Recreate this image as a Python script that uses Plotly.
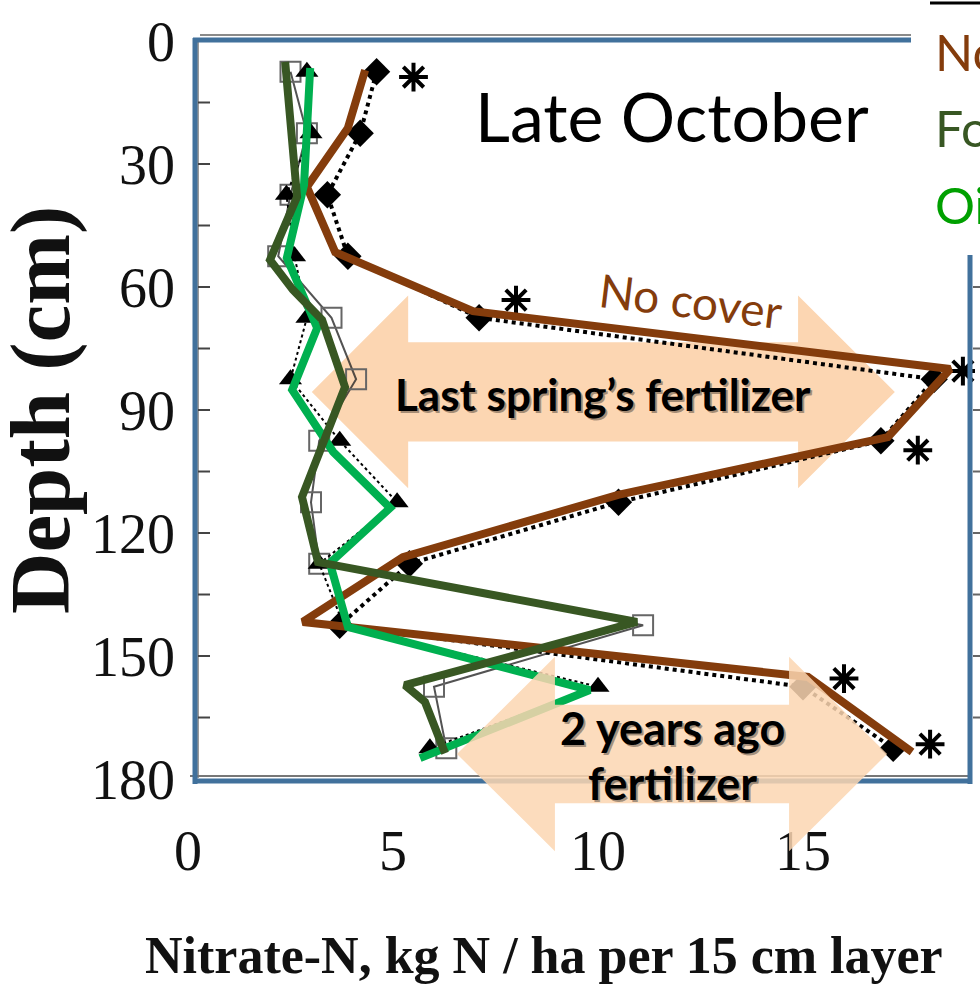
import plotly.graph_objects as go

# ---------------- data ----------------
# Hand-drawn overlay lines: nitrate-N (kg N/ha per 15 cm) vs depth (cm)
nocover_x = [4.32, 3.90, 2.90, 3.59, 6.95, 18.59, 17.07, 10.49, 5.24, 2.80, 15.12, 17.66]
nocover_d = [7.1, 21.2, 35.6, 51.5, 65.9, 80.0, 96.6, 110.7, 125.9, 141.7, 155.1, 173.4]

forage_x = [2.37, 2.66, 2.00, 2.56, 3.27, 3.83, 2.78, 3.17, 10.95, 5.29, 5.78, 6.27]
forage_d = [5.1, 38.0, 53.4, 60.7, 68.0, 84.4, 111.2, 127.1, 141.7, 157.1, 161.2, 173.7]

oilseed_x = [2.98, 2.83, 2.41, 3.15, 2.54, 3.54, 4.93, 3.46, 3.90, 9.80, 5.66]
oilseed_d = [6.6, 35.1, 52.9, 70.0, 85.1, 100.2, 113.9, 127.3, 142.9, 158.3, 174.9]

# Scanned original markers (layer mid-depths)
layer_depth = [7.5, 22.5, 37.5, 52.5, 67.5, 82.5, 97.5, 112.5, 127.5, 142.5, 157.5, 172.5]
scan_nocover = [4.6, 4.2, 3.4, 3.9, 7.1, 18.2, 16.9, 10.5, 5.4, 3.7, 15.0, 17.2]
scan_oilseed = [2.9, 3.0, 2.4, 2.6, 2.9, 2.5, 3.7, 5.1, 3.2, 3.8, 10.0, 5.9]
scan_forage = [2.5, 2.9, 2.5, 2.2, 3.5, 4.1, 3.2, 3.0, 3.2, 11.1, 6.0, 6.3]
signif = [1, 0, 0, 0, 1, 1, 1, 0, 0, 0, 1, 1]
signif_x = [5.5, 0, 0, 0, 8.0, 18.9, 17.8, 0, 0, 0, 16.0, 18.1]
signif_d = [8.8, 0, 0, 0, 63.2, 80.5, 99.8, 0, 0, 0, 155.5, 171.5]

x_ticks = [0, 5, 10, 15]
y_ticks = [0, 30, 60, 90, 120, 150, 180]
legend_names = ["No cover", "Forage radish", "Oilseed radish"]

BROWN = "#843C0C"
DKGREEN = "#385723"
GREEN = "#00B050"
LEGGREEN = "#00A000"
BLUE = "#41719C"
PEACH = "rgb(252,214,178)"

# ---------------- layout geometry ----------------
W, H = 980, 1002
ML, MR, MT, MB = 178, 5, 38, 217
PW, PH = W - ML - MR, H - MT - MB
X_RANGE = [-0.2439, 19.195]
Y_RANGE = [181.46, -0.7317]


def pp(px, py):
    return (px - ML) / PW, (H - MB - py) / PH


def dp(x, d):
    return ((x - X_RANGE[0]) / (X_RANGE[1] - X_RANGE[0]),
            (d - Y_RANGE[0]) / (Y_RANGE[1] - Y_RANGE[0]))


def double_arrow(ltip, lbase, rbase, rtip, c, shaft, head):
    pts = [(ltip, c), (lbase, c - head), (lbase, c - shaft), (rbase, c - shaft),
           (rbase, c - head), (rtip, c), (rbase, c + head), (rbase, c + shaft),
           (lbase, c + shaft), (lbase, c + head)]
    p = [dp(x, d) for x, d in pts]
    return "M " + " L ".join(f"{a:.5f},{b:.5f}" for a, b in p) + " Z"


def pline(x0, y0, x1, y1, color, width, layer="above"):
    a, b = pp(x0, y0)
    c, d = pp(x1, y1)
    return dict(type="line", xref="paper", yref="paper", x0=a, y0=b, x1=c, y1=d,
                line=dict(color=color, width=width), layer=layer)


fig = go.Figure()

# scanned original series
fig.add_trace(go.Scatter(x=scan_forage, y=layer_depth, mode="lines+markers",
                         line=dict(color="rgba(40,40,40,0.8)", width=2),
                         marker=dict(symbol="square-open", size=20, color="#666",
                                     line=dict(width=2, color="#666")),
                         showlegend=False))
fig.add_trace(go.Scatter(x=scan_oilseed, y=layer_depth, mode="lines+markers",
                         line=dict(color="black", width=2, dash="dot"),
                         marker=dict(symbol="triangle-up", size=20, color="black"),
                         showlegend=False))
fig.add_trace(go.Scatter(x=scan_nocover, y=layer_depth, mode="lines+markers",
                         line=dict(color="black", width=4, dash="dot"),
                         marker=dict(symbol="diamond", size=21, color="black"),
                         showlegend=False))
ast_x = [x for x, s in zip(signif_x, signif) if s]
ast_d = [d for d, s in zip(signif_d, signif) if s]
fig.add_trace(go.Scatter(x=ast_x, y=ast_d, mode="markers",
                         marker=dict(symbol="asterisk-open", size=24, color="black",
                                     line=dict(width=4, color="black")),
                         showlegend=False))

# hand-drawn overlay lines
fig.add_trace(go.Scatter(x=nocover_x, y=nocover_d, mode="lines", name=legend_names[0],
                         line=dict(color=BROWN, width=8), showlegend=False))
fig.add_trace(go.Scatter(x=oilseed_x, y=oilseed_d, mode="lines", name=legend_names[2],
                         line=dict(color=GREEN, width=8), showlegend=False))
fig.add_trace(go.Scatter(x=forage_x, y=forage_d, mode="lines", name=legend_names[1],
                         line=dict(color=DKGREEN, width=8), showlegend=False))

shapes = []
# arrow behind lines (last spring)
shapes.append(dict(type="path", xref="paper", yref="paper", layer="below",
                   path=double_arrow(3.02, 5.37, 14.88, 17.24, 85.6, 12.1, 23.5),
                   fillcolor=PEACH, line=dict(width=0)))
# scanned axis lines and ticks
shapes.append(pline(200, 35, 911, 35, "#8a8a8a", 2, "below"))
shapes.append(pline(198, 40, 198, 778, "#9a9a9a", 2, "below"))
shapes.append(pline(190, 776, 972, 776, "#777", 2, "below"))
for t in range(15, 180, 15):
    y = dp(0, t)[1]
    a = pp(198, 0)[0]
    b = pp(210, 0)[0]
    shapes.append(dict(type="line", xref="paper", yref="paper", x0=a, x1=b, y0=y, y1=y,
                       line=dict(color="#444", width=2), layer="below"))
for t in range(60, 180, 15):
    y = dp(0, t)[1]
    a = pp(973, 0)[0]
    b = pp(981, 0)[0]
    shapes.append(dict(type="line", xref="paper", yref="paper", x0=a, x1=b, y0=y, y1=y,
                       line=dict(color="#666", width=2), layer="below"))
# blue frame
shapes.append(pline(195, 38, 195, 784, BLUE, 5))
shapes.append(pline(193, 40, 911, 40, BLUE, 5))
shapes.append(pline(193, 781, 972, 781, BLUE, 5))
shapes.append(pline(970, 255, 970, 784, BLUE, 5))
# legend header rule
shapes.append(pline(930, 3, 982, 3, "black", 3))
# arrow in front (two years ago)
shapes.append(dict(type="path", xref="paper", yref="paper", layer="above", opacity=0.85,
                   path=double_arrow(6.56, 8.95, 14.66, 17.05, 173.9, 12.0, 23.7),
                   fillcolor=PEACH, line=dict(width=0)))

ann = []


def text(px, py, s, size, color="black", family="Lato", bold=False, angle=0,
         xanchor="center", shadow=False):
    x, y = pp(px, py)
    body = f"<b>{s}</b>" if bold else s
    if shadow:
        sx, sy = pp(px + 2, py + 2)
        ann.append(dict(x=sx, y=sy, xref="paper", yref="paper", text=body, showarrow=False,
                        textangle=angle, xanchor=xanchor, yanchor="middle",
                        font=dict(family=family, size=size, color="rgba(0,0,0,0.35)")))
    ann.append(dict(x=x, y=y, xref="paper", yref="paper", text=body, showarrow=False,
                    textangle=angle, xanchor=xanchor, yanchor="middle",
                    font=dict(family=family, size=size, color=color)))


text(672, 116, "Late October", 68)
text(691, 300, "No cover", 46, BROWN, angle=7)
text(603, 394, "Last spring’s fertilizer", 44, bold=True, shadow=True)
text(672, 728, "2 years ago", 45, bold=True, shadow=True)
text(672, 783, "fertilizer", 45, bold=True, shadow=True)
text(933, 52, legend_names[0], 50, BROWN, xanchor="left")
text(933, 128, legend_names[1], 50, DKGREEN, xanchor="left")
text(933, 205, legend_names[2], 50, LEGGREEN, xanchor="left")
text(40, 410, "Depth (cm)", 85, "#111", "Liberation Serif", bold=True, angle=-90)
text(544, 955, "Nitrate-N, kg N / ha per 15 cm layer", 52, "#111", "Liberation Serif", bold=True)

fig.update_layout(
    width=W, height=H,
    margin=dict(l=ML, r=MR, t=MT, b=MB, pad=0),
    paper_bgcolor="white", plot_bgcolor="rgba(0,0,0,0)",
    shapes=shapes, annotations=ann, showlegend=False,
    xaxis=dict(range=X_RANGE, tickvals=x_ticks, ticks="", showgrid=False, zeroline=False,
               showline=False, ticklabelstandoff=28,
               tickfont=dict(family="Liberation Serif", size=56, color="#111")),
    yaxis=dict(range=Y_RANGE, tickvals=y_ticks, ticks="", showgrid=False, zeroline=False,
               showline=False, ticklabelstandoff=2,
               tickfont=dict(family="Liberation Serif", size=56, color="#111")),
)

fig.write_html("out.html")
